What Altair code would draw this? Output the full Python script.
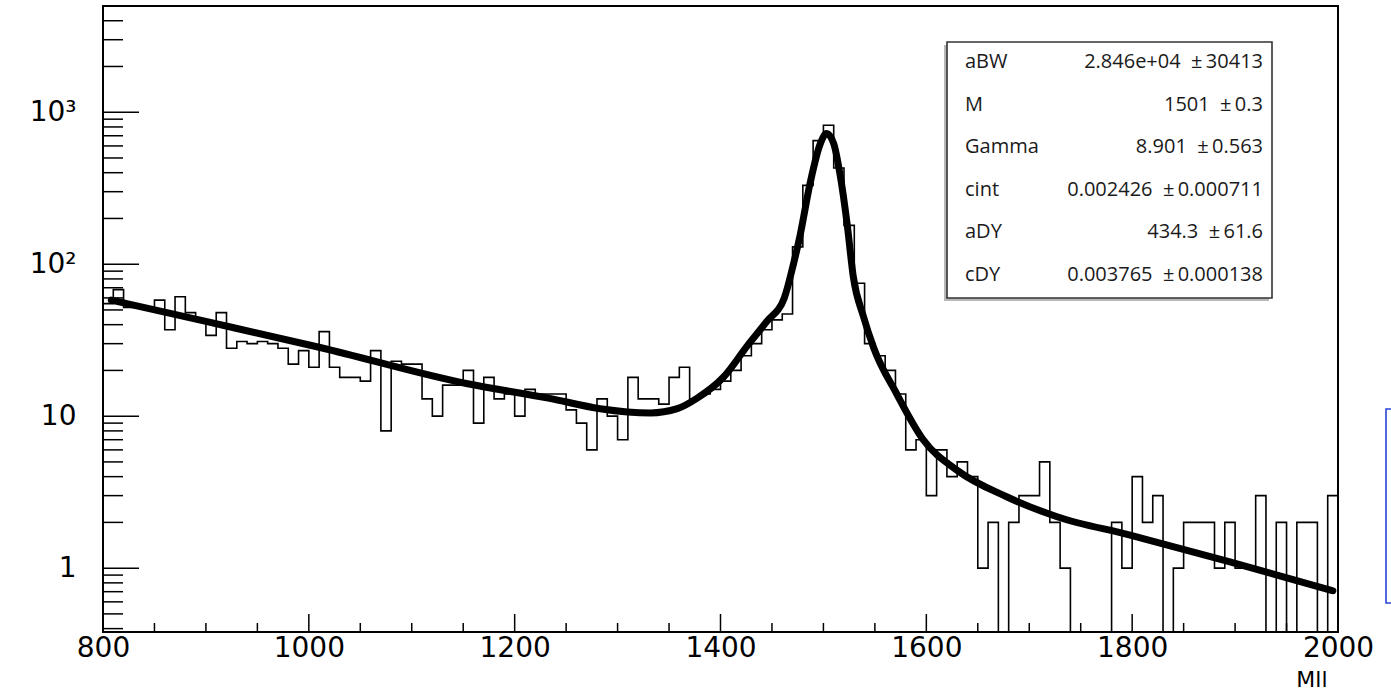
import altair as alt
import pandas as pd

# ---------------- data ----------------
bin_width = 10
bin_lo = list(range(800, 2000, bin_width))
counts = [
    55, 68, 52, 52, 50, 58, 37, 61, 48, 43,
    34, 48, 28, 31, 30, 31, 30, 28, 22, 27,
    21, 36, 21, 18, 18, 17, 27, 8, 23, 22,
    22, 13, 10, 16, 16, 20, 9, 18, 13, 14,
    10, 15, 14, 14, 14, 11, 9, 6, 13, 10,
    7, 18, 13, 13, 12, 18, 21, 13, 14, 15,
    17, 20, 25, 30, 37, 43, 47, 130, 330, 650,
    820, 430, 180, 75, 30, 25, 20, 14, 6, 7,
    3, 6, 4, 5, 4, 1, 2, 0, 2, 3,
    3, 5, 2, 1, 0, 0, 0, 0, 2, 1,
    4, 2, 3, 0, 1, 2, 2, 2, 1, 2,
    1, 1, 3, 0, 2, 0, 2, 2, 0, 3,
]

fit_x = [808, 900, 1011, 1153, 1234, 1283, 1332, 1358, 1377, 1403, 1426, 1445,
         1462, 1471, 1477, 1487, 1497, 1503, 1510, 1516, 1523, 1529, 1539, 1549,
         1571, 1597, 1630, 1678, 1727, 1798, 1895, 1995]
fit_y = [58, 42, 28.3, 16.4, 13.1, 11.2, 10.5, 11.2, 13.1, 18.1, 29, 42,
         60, 101, 151, 340, 622, 724, 622, 395, 185, 83, 45, 28,
         14.1, 7.0, 4.4, 2.95, 2.18, 1.65, 1.10, 0.71]

x_domain = [800, 2000]
y_domain = [0.38, 5000]

x_major = [800, 1000, 1200, 1400, 1600, 1800, 2000]
x_minor = [v for v in range(850, 2000, 50) if v not in x_major]
y_major = [1, 10, 100, 1000]
y_labels = ["1\u2008", "10\u2008", "10\u00b2", "10\u00b3"]
y_minor = ([0.4, 0.5, 0.6, 0.7, 0.8, 0.9]
           + [2, 3, 4, 5, 6, 7, 8, 9]
           + [20, 30, 40, 50, 60, 70, 80, 90]
           + [200, 300, 400, 500, 600, 700, 800, 900]
           + [2000, 3000, 4000])

stat_names = ["aBW", "M", "Gamma", "cint", "aDY", "cDY"]
stat_values = ["2.846e+04", "1501", "8.901", "0.002426", "434.3", "0.003765"]
stat_errors = ["30413", "0.3", "0.563", "0.000711", "61.6", "0.000138"]

# ---------------- tables ----------------
hist_df = pd.DataFrame({"mll": bin_lo + [2000], "count": counts + [counts[-1]]})
fit_df = pd.DataFrame({"mll": fit_x, "fit": fit_y})
stat_df = pd.DataFrame({
    "name": stat_names,
    "val": [f"{v}\u00a0\u00a0\u00b1\u2009{e}" for v, e in zip(stat_values, stat_errors)],
    "row": list(range(len(stat_names))),
})
one = pd.DataFrame({"a": [0]})

W, H = 1235, 626
FONT = "DejaVu Sans"

xs = alt.Scale(domain=x_domain, nice=False, zero=False)
ys = alt.Scale(type="log", domain=y_domain, nice=False)

label_expr = " : ".join(
    f"datum.value == {v} ? '{lab}'" for v, lab in zip(y_major[:-1], y_labels[:-1])
) + f" : '{y_labels[-1]}'"

x_axis = alt.Axis(values=x_major, format="d", ticks=False, tickSize=0, domain=False,
                  grid=False, labelFont=FONT, labelFontSize=28, labelColor="black",
                  labelPadding=24, labelBaseline="alphabetic", labelFlush=False,
                  labelOverlap=False, title="Mll", titleFont=FONT, titleFontSize=22,
                  titleFontWeight="normal", titleColor="black", titleAlign="right",
                  titleAnchor="end", titleX=1224, titleY=54,
                  titleBaseline="alphabetic")
y_axis = alt.Axis(values=y_major, labelExpr=label_expr, ticks=False, tickSize=0,
                  domain=False, grid=False, labelFont=FONT, labelFontSize=28,
                  labelColor="black", labelPadding=27, labelAlign="right",
                  labelBaseline="middle", labelOverlap=False, labelFlush=False,
                  title=None)

hist = alt.Chart(hist_df).transform_calculate(
    plotted=f"max(datum.count, {y_domain[0]})"
).mark_line(interpolate="step-after", color="black", strokeWidth=1.6, clip=True).encode(
    x=alt.X("mll:Q", scale=xs, axis=x_axis),
    y=alt.Y("plotted:Q", scale=ys, axis=y_axis),
)

fit = alt.Chart(fit_df).mark_line(interpolate="monotone", color="black", strokeWidth=7,
                                  strokeCap="round", clip=True).encode(
    x=alt.X("mll:Q", scale=xs, axis=x_axis),
    y=alt.Y("fit:Q", scale=ys, axis=y_axis),
)

y_major_ticks = alt.Chart(pd.DataFrame({"v": y_major})).mark_rule(
    color="black", strokeWidth=1.5).encode(
    y=alt.Y("v:Q", scale=ys, axis=y_axis), x=alt.value(0), x2=alt.value(36))
y_minor_ticks = alt.Chart(pd.DataFrame({"v": y_minor})).mark_rule(
    color="black", strokeWidth=1.5).encode(
    y=alt.Y("v:Q", scale=ys, axis=y_axis), x=alt.value(0), x2=alt.value(20))
x_major_ticks = alt.Chart(pd.DataFrame({"v": x_major})).mark_rule(
    color="black", strokeWidth=1.5).encode(
    x=alt.X("v:Q", scale=xs, axis=x_axis), y=alt.value(H), y2=alt.value(H - 18))
x_minor_ticks = alt.Chart(pd.DataFrame({"v": x_minor})).mark_rule(
    color="black", strokeWidth=1.5).encode(
    x=alt.X("v:Q", scale=xs, axis=x_axis), y=alt.value(H), y2=alt.value(H - 9))

# statistics box
box_shadow = alt.Chart(one).mark_rect(fill="#b8b8b8").encode(
    x=alt.value(841), x2=alt.value(1166), y=alt.value(39), y2=alt.value(295))
box = alt.Chart(one).mark_rect(fill="white", stroke="#333333", strokeWidth=1.6).encode(
    x=alt.value(844), x2=alt.value(1169), y=alt.value(36), y2=alt.value(292))
stat_names_txt = alt.Chart(stat_df).transform_calculate(
    py="56 + 42.6 * datum.row"
).mark_text(align="left", baseline="middle", font="Open Sans", fontSize=20,
            color="#1a1a1a").encode(
    x=alt.value(862), y=alt.Y("py:Q", scale=None, axis=None), text="name:N")
stat_vals_txt = alt.Chart(stat_df).transform_calculate(
    py="56 + 42.6 * datum.row"
).mark_text(align="right", baseline="middle", font="Open Sans", fontSize=20,
            color="#1a1a1a").encode(
    x=alt.value(1160), y=alt.Y("py:Q", scale=None, axis=None), text="val:N")

# blue frame at the right edge
blue_box = alt.Chart(one).mark_rect(fillOpacity=0, stroke="#2a45d8", strokeWidth=1.6).encode(
    x=alt.value(1283), x2=alt.value(1330), y=alt.value(403), y2=alt.value(597))

chart = alt.layer(
    hist, fit, y_major_ticks, y_minor_ticks, x_major_ticks, x_minor_ticks,
    box_shadow, box, stat_names_txt, stat_vals_txt, blue_box,
).properties(
    width=W, height=H,
    autosize=alt.AutoSizeParams(type="none"),
    padding={"left": 103, "top": 6, "right": 53, "bottom": 61},
    background="white",
).configure_view(stroke="black", strokeWidth=2)

chart.save("out.html", embed_options={"renderer": "svg", "actions": False})
